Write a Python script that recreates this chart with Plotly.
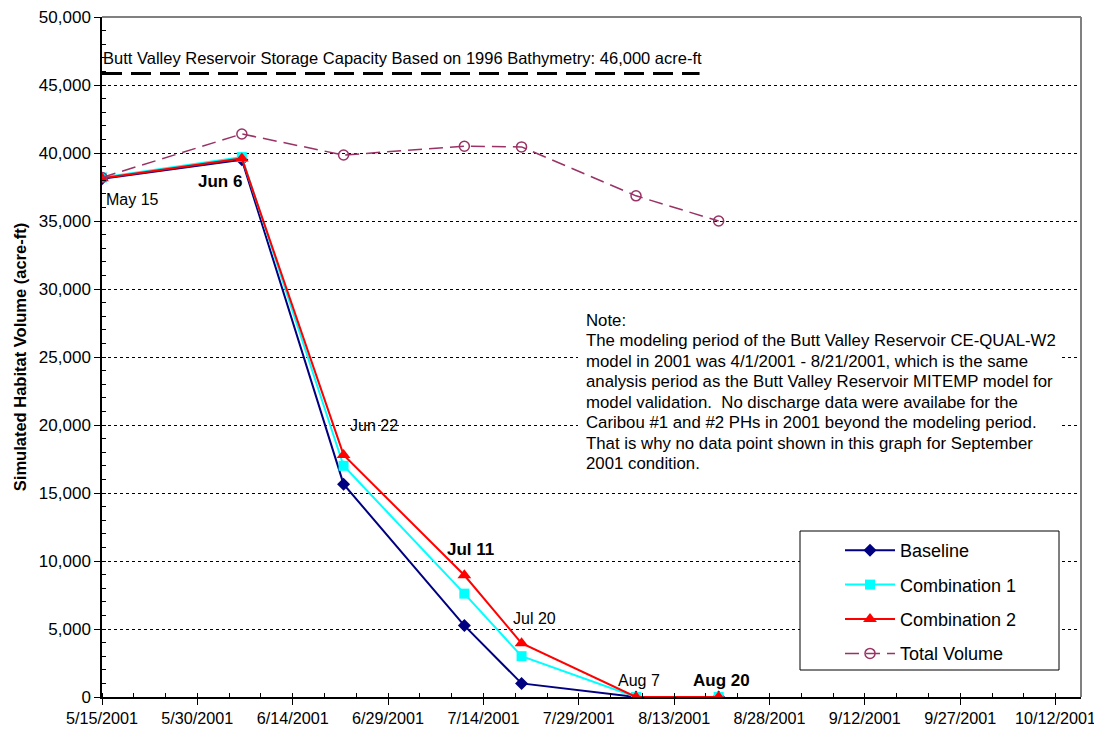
import plotly.graph_objects as go

dates = ["2001-05-15", "2001-06-06", "2001-06-22", "2001-07-11", "2001-07-20", "2001-08-07", "2001-08-20"]
baseline = [38100, 39500, 15650, 5250, 1000, 0, 0]
combo1 = [38200, 39700, 17000, 7600, 3000, 0, 0]
combo2 = [38150, 39600, 17800, 8950, 3950, 0, 0]
total_dates = ["2001-05-15", "2001-06-06", "2001-06-22", "2001-07-11", "2001-07-20", "2001-08-07", "2001-08-20"]
total_volume = [38200, 41400, 39850, 40500, 40450, 36850, 35000]
capacity = 45850
capacity_dates = ["2001-05-15", "2001-08-17"]
capacity_text = "Butt Valley Reservoir Storage Capacity Based on 1996 Bathymetry: 46,000 acre-ft"
point_labels = ["May 15", "Jun 6", "Jun 22", "Jul 11", "Jul 20", "Aug 7", "Aug 20"]
label_bold = [False, True, False, True, False, False, True]
note_lines = [
    "Note:",
    "The modeling period of the Butt Valley Reservoir CE-QUAL-W2",
    "model in 2001 was 4/1/2001 - 8/21/2001, which is the same",
    "analysis period as the Butt Valley Reservoir MITEMP model for",
    "model validation.  No discharge data were availabe for the",
    "Caribou #1 and #2 PHs in 2001 beyond the modeling period.",
    "That is why no data point shown in this graph for September",
    "2001 condition.",
]

FONT = "Liberation Sans, Arial, sans-serif"
# page offset (browser body margin) is compensated in the figure size/margins
W, H = 1094, 722
PL, PT, PR, PB = 102, 17, 1081, 697   # plot area in page pixels
PW, PH = PR - PL, PB - PT


def px(xp):
    return (xp - PL) / PW


def py(yp):
    return (PB - yp) / PH


fig = go.Figure()
fig.add_trace(go.Scatter(x=dates, y=baseline, name="Baseline", mode="lines+markers",
                         line=dict(color="#000080", width=2),
                         marker=dict(symbol="diamond", size=10, color="#000080"),
                         legendgroup="a"))
fig.add_trace(go.Scatter(x=dates, y=combo1, name="Combination 1", mode="lines+markers",
                         line=dict(color="#00FFFF", width=2),
                         marker=dict(symbol="square", size=10, color="#00FFFF"),
                         legendgroup="b"))
fig.add_trace(go.Scatter(x=dates, y=combo2, name="Combination 2", mode="lines+markers",
                         line=dict(color="#FF0000", width=2),
                         marker=dict(symbol="triangle-up", size=12, color="#FF0000"),
                         legendgroup="c"))
fig.add_trace(go.Scatter(x=total_dates, y=total_volume, name="Total Volume", mode="lines+markers",
                         line=dict(color="#993366", width=1.5, dash="14px,7px"),
                         marker=dict(symbol="circle-open", size=10, color="#993366",
                                     line=dict(width=1.5)),
                         legendgroup="d"))
fig.add_trace(go.Scatter(x=capacity_dates, y=[capacity, capacity], mode="lines",
                         line=dict(color="black", width=3, dash="20px,9px"),
                         showlegend=False, hoverinfo="skip"))

ann = []
ann.append(dict(x=capacity_dates[0], y=capacity, xref="x", yref="y", text=capacity_text,
                showarrow=False, xanchor="left", yanchor="bottom", xshift=-1, yshift=4,
                font=dict(size=16.5, color="black", family=FONT)))
shifts = [(2, -22, "left"), (2, -24, "right"), (4, 29, "left"), (6, 26, "center"),
          (13, 25, "center"), (3, 17, "center"), (3, 17, "center")]
for i, lab in enumerate(point_labels):
    dx, dy, xa = shifts[i]
    top = max(baseline[i], combo1[i], combo2[i])
    txt = f"<b>{lab}</b>" if label_bold[i] else lab
    ann.append(dict(x=dates[i], y=top, xref="x", yref="y", text=txt, showarrow=False,
                    xanchor=xa, yanchor="middle", xshift=dx, yshift=dy,
                    font=dict(size=17 if label_bold[i] else 16, color="black", family=FONT)))
for i, line in enumerate(note_lines):
    ann.append(dict(x=px(584), y=py(320 + 20.57 * i), xref="paper", yref="paper",
                    text=line, showarrow=False, xanchor="left", yanchor="middle",
                    align="left", font=dict(size=16.8, color="black", family=FONT)))

fig.update_layout(
    width=W, height=H,
    margin=dict(l=PL - 8, r=(W + 8) - PR, t=PT - 8, b=(H + 8) - PB),
    paper_bgcolor="white", plot_bgcolor="white",
    font=dict(family=FONT, size=16, color="black"),
    showlegend=True,
    legend=dict(x=px(840), y=py(532), xanchor="left", yanchor="top",
                borderwidth=0, bgcolor="rgba(0,0,0,0)",
                font=dict(size=18, family=FONT), tracegroupgap=8,
                itemwidth=50),
    annotations=ann,
    shapes=[
        dict(type="line", xref="paper", yref="paper", x0=0, x1=1, y0=1, y1=1,
             line=dict(color="#808080", width=2)),
        dict(type="line", xref="paper", yref="paper", x0=1, x1=1, y0=0, y1=1,
             line=dict(color="#808080", width=2)),
        dict(type="rect", xref="paper", yref="paper",
             x0=px(578), x1=px(1062), y0=py(477), y1=py(305),
             fillcolor="white", line=dict(width=0), layer="above"),
        dict(type="rect", xref="paper", yref="paper",
             x0=px(800), x1=px(1059), y0=py(670), y1=py(531),
             fillcolor="white", line=dict(color="black", width=1), layer="above"),
    ],
)
fig.update_xaxes(type="date", range=["2001-05-15", "2001-10-16"], automargin=False,
                 tick0="2001-05-15", dtick=15 * 86400000, tickformat="%-m/%-d/%Y",
                 showgrid=False, showline=True, linecolor="black", linewidth=1.5,
                 ticks="outside", ticklen=6, tickcolor="black", ticklabeloverflow="allow",
                 tickfont=dict(size=16.2, family=FONT), zeroline=False,
                 minor=dict(dtick=5 * 86400000, tick0="2001-05-15", ticks="inside",
                            ticklen=4, tickcolor="black", showgrid=False))
fig.update_yaxes(range=[0, 50000], dtick=5000, tickformat=",d", automargin=False,
                 showgrid=True, gridcolor="black", griddash="dot", gridwidth=1,
                 showline=True, linecolor="black", linewidth=1.5,
                 ticks="outside", ticklen=6, tickcolor="black", zeroline=False,
                 ticklabeloverflow="allow",
                 tickfont=dict(size=17, family=FONT),
                 title=dict(text="<b>Simulated Habitat Volume (acre-ft)</b>",
                            font=dict(size=16.5, family=FONT), standoff=8),
                 minor=dict(dtick=1000, ticks="inside", ticklen=4, tickcolor="black",
                            showgrid=False))
fig.write_html("out.html")
